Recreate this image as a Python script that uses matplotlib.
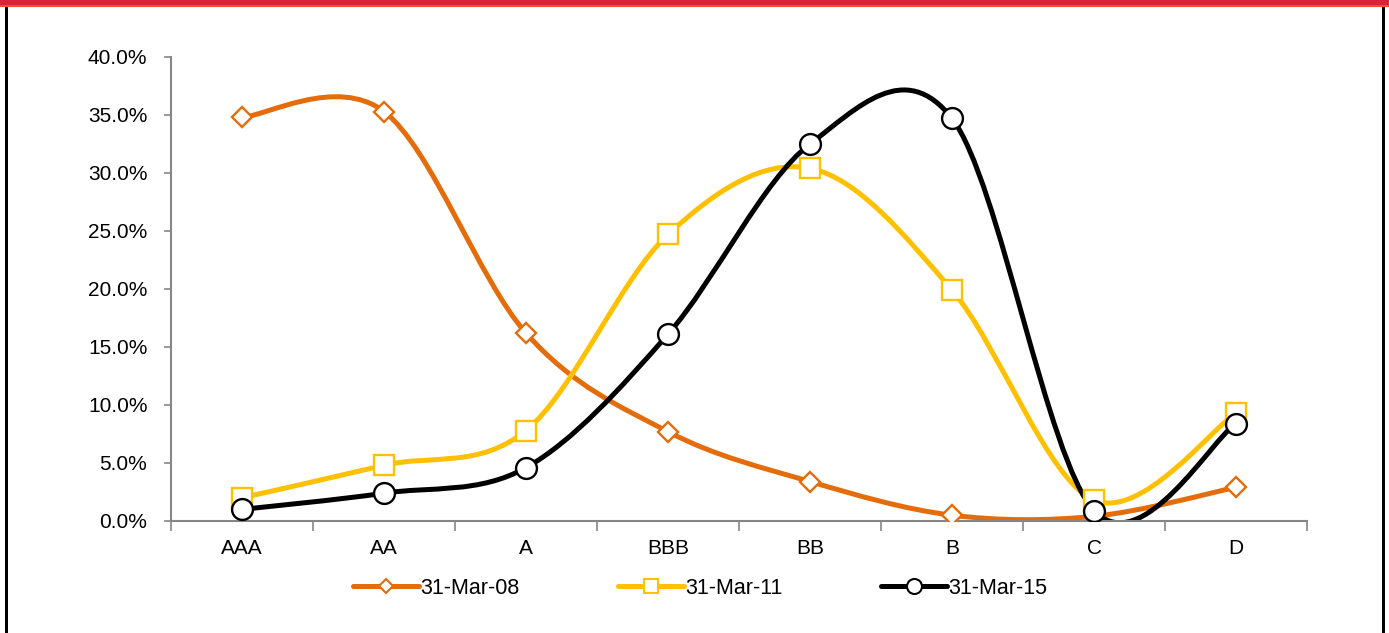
import numpy as np
import matplotlib
matplotlib.use("Agg")
from matplotlib import pyplot as plt
from matplotlib.path import Path
from matplotlib.patches import PathPatch, Rectangle
from matplotlib.lines import Line2D

plt.rcParams['font.family'] = ['Liberation Sans', 'DejaVu Sans']

# data
categories = ['AAA', 'AA', 'A', 'BBB', 'BB', 'B', 'C', 'D']
mar08 = [34.8, 35.3, 16.2, 7.7, 3.4, 0.5, 0.4, 2.9]
mar11 = [2.0, 4.8, 7.8, 24.7, 30.4, 19.9, 1.8, 9.3]
mar15 = [1.0, 2.4, 4.6, 16.1, 32.5, 34.7, 0.9, 8.4]
series_names = ['31-Mar-08', '31-Mar-11', '31-Mar-15']


def smooth_path(xs, ys, tension=1 / 6):
	# excel-like smoothed line: cubic bezier through every point
	pts = np.column_stack([xs, ys]).astype(float)
	n = len(pts)
	verts = [pts[0]]
	codes = [Path.MOVETO]
	for i in range(n - 1):
		p0 = pts[i - 1] if i > 0 else pts[i]
		p1 = pts[i]
		p2 = pts[i + 1]
		p3 = pts[i + 2] if i + 2 < n else pts[i + 1]
		c1 = p1 + (p2 - p0) * tension
		c2 = p2 - (p3 - p1) * tension
		verts += [c1, c2, p2]
		codes += [Path.CURVE4] * 3
	return Path(verts, codes)


fig = plt.figure(figsize=(13.89, 6.33), dpi=100)
ax = fig.add_axes([171 / 1389, (633 - 521) / 633, (1307 - 171) / 1389, (521 - 57) / 633])

x = np.arange(len(categories))
styles = [
	(mar08, '#E46C0A', 'D', 10),
	(mar11, '#FFC000', 's', 14),
	(mar15, '#000000', 'o', 15),
]
handles = []
for (vals, col, mk, ms), name in zip(styles, series_names):
	patch = PathPatch(smooth_path(x, vals), facecolor='none', edgecolor=col,
					  lw=3.6, capstyle='round', joinstyle='round', zorder=2)
	ax.add_patch(patch)
	ax.plot(x, vals, ls='none', marker=mk, ms=ms, mfc='white', mec=col,
			mew=1.7, zorder=3)
	handles.append(Line2D([], [], color=col, lw=3.6, marker=mk,
						  ms=ms * 0.72, mfc='white', mec=col, mew=1.5,
						  solid_capstyle='round'))

ax.set_xlim(-0.5, len(categories) - 0.5)
ax.set_ylim(0, 40)
ax.set_yticks(np.arange(0, 41, 5))
ax.set_yticklabels([f'{v:.1f}%' for v in np.arange(0, 41, 5)])
ax.set_xticks(x)
ax.set_xticklabels(categories)
ax.set_xticks(np.arange(-0.5, len(categories)), minor=True)

for side in ['top', 'right']:
	ax.spines[side].set_visible(False)
for side in ['left', 'bottom']:
	ax.spines[side].set_color('#868686')
	ax.spines[side].set_linewidth(1.5)

ax.tick_params(axis='y', colors='#868686', labelcolor='black', labelsize=15,
			   length=5, width=1.2, direction='out', pad=12)
ax.tick_params(axis='x', which='major', length=0, labelsize=15, pad=13,
			   labelcolor='black')
ax.tick_params(axis='x', which='minor', length=7, width=1.2, colors='#868686',
			   direction='out')

fig.legend(handles, series_names, loc='center', bbox_to_anchor=(0.504, 1 - 588 / 633),
		   ncol=3, frameon=False, fontsize=15.5, handlelength=3.1,
		   handletextpad=0.05, columnspacing=4.55)

# red band on top and black frame
fig.patches.append(Rectangle((0, 1 - 5 / 633), 1, 5 / 633, transform=fig.transFigure,
							 facecolor='#D42539', edgecolor='none', zorder=5))
fig.patches.append(Rectangle((0, 1 - 7 / 633), 1, 2 / 633, transform=fig.transFigure,
							 facecolor='#E8503A', edgecolor='none', zorder=5))
fig.patches.append(Rectangle((5 / 1389, 0), 3 / 1389, 1 - 7 / 633, transform=fig.transFigure,
							 facecolor='black', edgecolor='none', zorder=5))
fig.patches.append(Rectangle((1382 / 1389, 0), 3 / 1389, 1 - 7 / 633, transform=fig.transFigure,
							 facecolor='black', edgecolor='none', zorder=5))

fig.savefig('out.png', dpi=100)
